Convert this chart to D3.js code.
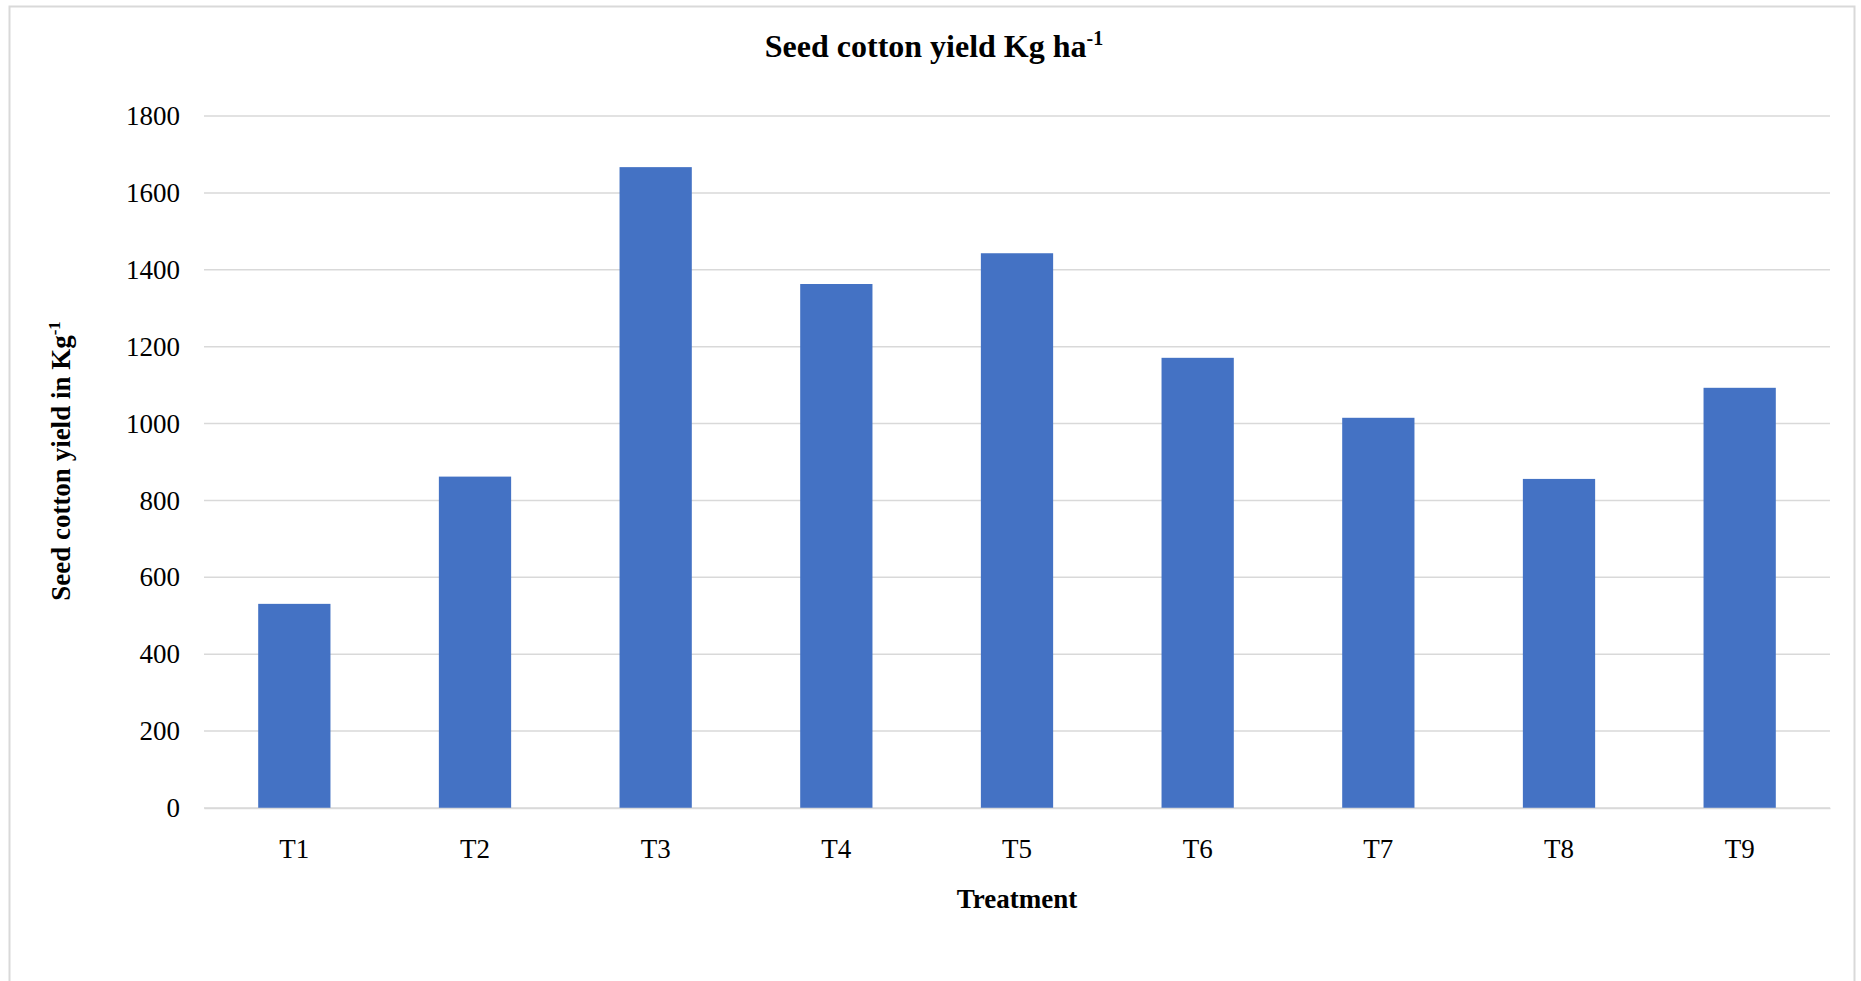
<!DOCTYPE html>
<html>
<head>
<meta charset="utf-8">
<script src="https://cdn.jsdelivr.net/npm/d3@7"></script>
<style>
  body { margin: 0; background: #fff; }
  text { font-family: "Liberation Serif", "Times New Roman", serif; fill: #000; }
</style>
</head>
<body>
<svg id="chart"></svg>
<script>
// values
const treatments = ["T1", "T2", "T3", "T4", "T5", "T6", "T7", "T8", "T9"];
const yieldKg = [531, 862, 1667, 1363, 1443, 1171, 1015, 856, 1093];
const yTicks = [0, 200, 400, 600, 800, 1000, 1200, 1400, 1600, 1800];

const width = 1861;
const height = 981;
const margin = {top: 116, left: 204, right: 31, bottom: 173};

const svg = d3.select("#chart")
  .attr("width", width)
  .attr("height", height);

// chart area border
svg.append("rect")
  .attr("x", 9.5).attr("y", 6.5)
  .attr("width", 1845).attr("height", 990)
  .attr("fill", "none")
  .attr("stroke", "#d9d9d9")
  .attr("stroke-width", 2);

const x = d3.scaleBand()
  .domain(treatments)
  .range([margin.left, width - margin.right])
  .paddingInner(0.6)
  .paddingOuter(0.3);

const y = d3.scaleLinear()
  .domain([0, 1800])
  .range([height - margin.bottom, margin.top]);

// gridlines
svg.append("g")
  .selectAll("line")
  .data(yTicks)
  .join("line")
  .attr("x1", margin.left)
  .attr("x2", width - margin.right)
  .attr("y1", d => y(d))
  .attr("y2", d => y(d))
  .attr("stroke", "#d9d9d9")
  .attr("stroke-width", 1.5);

// y tick labels
const yAxis = svg.append("g")
  .attr("transform", `translate(${margin.left},0)`)
  .call(d3.axisLeft(y).tickValues(yTicks).tickFormat(d3.format("d")).tickSize(0).tickPadding(24));
yAxis.select(".domain").remove();
yAxis.selectAll("text")
  .style("font-size", "27px")
  .style("font-family", "Liberation Serif");

// bars
svg.append("g")
  .selectAll("rect")
  .data(yieldKg)
  .join("rect")
  .attr("x", (d, i) => x(treatments[i]))
  .attr("width", x.bandwidth())
  .attr("y", d => y(d))
  .attr("height", d => y(0) - y(d))
  .attr("fill", "#4472c4");

// x axis line + labels
const xAxis = svg.append("g")
  .attr("transform", `translate(0,${y(0)})`)
  .call(d3.axisBottom(x).tickSize(0).tickPadding(31));
xAxis.select(".domain")
  .attr("stroke", "#d9d9d9")
  .attr("stroke-width", 1.5);
xAxis.selectAll("text")
  .style("font-size", "27px")
  .style("font-family", "Liberation Serif");

// title
const title = svg.append("text")
  .attr("x", 934)
  .attr("y", 57)
  .attr("text-anchor", "middle")
  .style("font-size", "32px")
  .style("font-weight", "bold");
title.append("tspan").text("Seed cotton yield Kg ha");
title.append("tspan").text("-1")
  .attr("dy", -12)
  .style("font-size", "20px");

// x axis title
svg.append("text")
  .attr("x", 1017)
  .attr("y", 908)
  .attr("text-anchor", "middle")
  .style("font-size", "27px")
  .style("font-weight", "bold")
  .text("Treatment");

// y axis title
const yTitle = svg.append("text")
  .attr("transform", "translate(70,461) rotate(-90)")
  .attr("text-anchor", "middle")
  .style("font-size", "27px")
  .style("font-weight", "bold");
yTitle.append("tspan").text("Seed cotton yield in Kg");
yTitle.append("tspan").text("-1")
  .attr("dy", -10)
  .style("font-size", "17px");
</script>
</body>
</html>
